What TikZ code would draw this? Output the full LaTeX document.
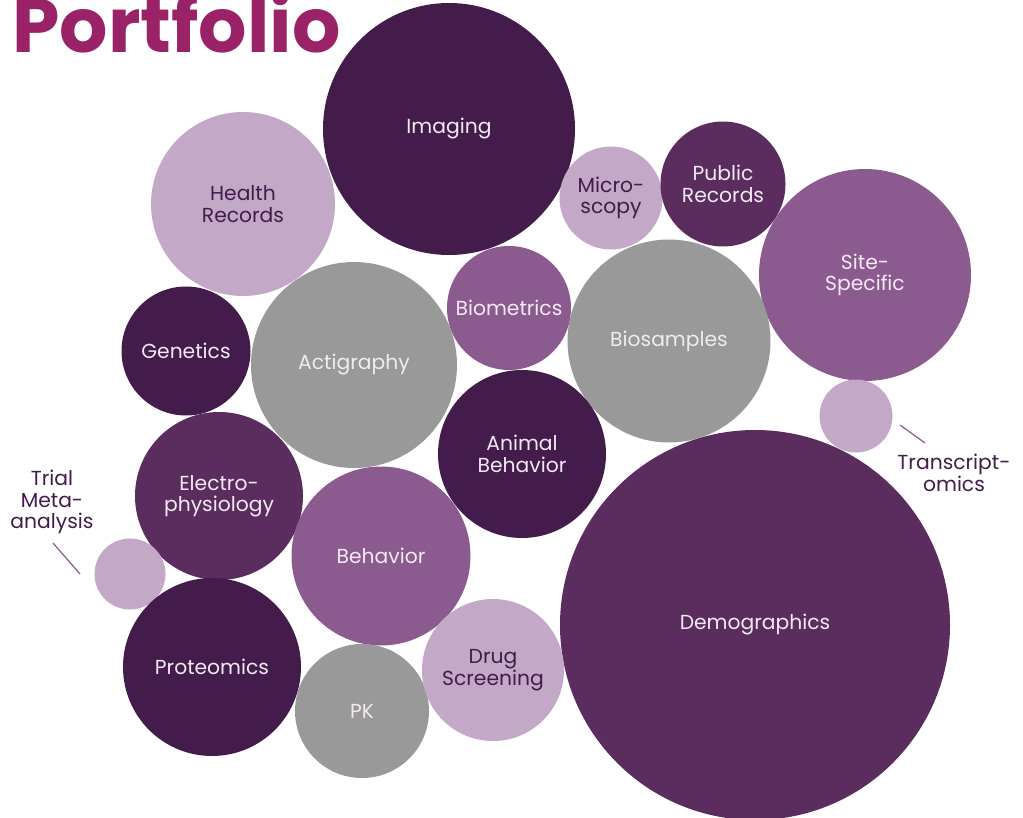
\documentclass[tikz,border=0pt]{standalone}
\usepackage{fontspec}
\setmainfont{Poppins}
\definecolor{titlec}{HTML}{9A2367}
\definecolor{dkp}{HTML}{431C4B}
\definecolor{mdp}{HTML}{5A2D5E}
\definecolor{vio}{HTML}{8B5A8E}
\definecolor{lgt}{HTML}{C4A8C8}
\definecolor{gry}{HTML}{999999}
\definecolor{ltxt}{HTML}{F2EAF2}
\tikzset{
  bub/.style={circle, inner sep=0pt, align=center, font=\fontsize{20.3}{21.5}\selectfont},
  darkb/.style={bub, fill=dkp, text=ltxt},
  medb/.style={bub, fill=mdp, text=ltxt},
  viob/.style={bub, fill=vio, text=ltxt},
  lightb/.style={bub, fill=lgt, text=dkp},
  greyb/.style={bub, fill=gry, text=ltxt},
  outlbl/.style={align=center, text=dkp, font=\fontsize{20.3}{21.5}\selectfont},
  leader/.style={draw=vio, line width=1.2pt}
}
\begin{document}
\begin{tikzpicture}[x=1pt,y=-1pt]
\useasboundingbox (0,0) rectangle (1023,818);
\node[anchor=base west, inner sep=0pt, text=titlec, font=\fontsize{76}{76}\selectfont\bfseries] (title) at (12,53) {Portfolio};
\node[darkb, minimum size=252] (imaging) at (449,129) {Imaging};
\node[lightb, minimum size=184] (health) at (243,204) {Health\\Records};
\node[lightb, minimum size=103] (micro) at (611,198) {Micro-\\scopy};
\node[medb, minimum size=125] (public) at (723,184) {Public\\Records};
\node[viob, minimum size=212] (site) at (865,275) {Site-\\Specific};
\node[darkb, minimum size=129] (genetics) at (186,351) {Genetics};
\node[greyb, minimum size=206] (acti) at (354,365) {Actigraphy};
\node[viob, minimum size=124] (biom) at (509,308) {Biometrics};
\node[greyb, minimum size=203] (bios) at (669,341) {Biosamples};
\node[lightb, minimum size=73] (trans) at (856,416) {};
\node[darkb, minimum size=168] (animal) at (522,454) {Animal\\Behavior};
\node[medb, minimum size=168] (electro) at (219,496) {Electro-\\physiology};
\node[lightb, minimum size=71] (trial) at (130,574) {};
\node[viob, minimum size=179] (behav) at (381,556) {Behavior};
\node[medb, minimum size=390] (demo) at (755,625) {Demographics};
\node[darkb, minimum size=178] (prot) at (212,667) {Proteomics};
\node[greyb, minimum size=134] (pk) at (362,711) {PK};
\node[lightb, minimum size=142] (drug) at (493,670) {Drug\\Screening};
\node[outlbl] (triallbl) at (52,502) {Trial\\Meta-\\analysis};
\node[outlbl] (translbl) at (954,473) {Transcript-\\omics};
\coordinate (t1) at (53,543);
\coordinate (t2) at (80,574);
\coordinate (r1) at (900,425);
\coordinate (r2) at (925,443);
\draw[leader] (t1) -- (t2);
\draw[leader] (r1) -- (r2);
\end{tikzpicture}
\end{document}
